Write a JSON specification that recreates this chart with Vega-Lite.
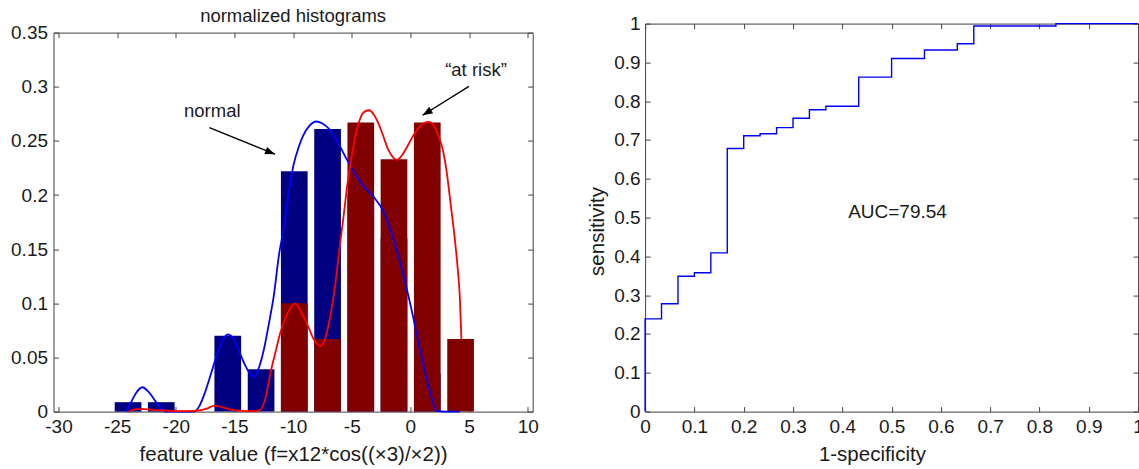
{
  "$schema": "https://vega.github.io/schema/vega-lite/v6.json",
  "background": "white",
  "padding": {"left": 10.5, "top": 6.6, "right": 0, "bottom": 0},
  "bounds": "flush",
  "spacing": 111.6,
  "config": {
    "view": {"stroke": null},
    "font": "Liberation Sans",
    "axis": {
      "grid": false,
      "labelFont": "Liberation Sans",
      "labelFontSize": 19,
      "labelColor": "#1a1a1a",
      "labelFlush": false,
      "labelOverlap": false,
      "titleFont": "Liberation Sans",
      "titleFontSize": 20.5,
      "titleFontWeight": "normal",
      "titleColor": "#1a1a1a",
      "domainColor": "#404040",
      "tickColor": "#404040",
      "domainWidth": 1,
      "tickWidth": 1,
      "tickSize": -5
    }
  },
  "datasets": {
    "bars": [
      {"group": "normal", "center": -24.07, "freq": 0.0087},
      {"group": "normal", "center": -21.24, "freq": 0.0087},
      {"group": "normal", "center": -15.57, "freq": 0.07},
      {"group": "normal", "center": -12.73, "freq": 0.039},
      {"group": "normal", "center": -9.9, "freq": 0.222},
      {"group": "normal", "center": -7.06, "freq": 0.261},
      {"group": "normal", "center": -4.23, "freq": 0.2},
      {"group": "normal", "center": -1.4, "freq": 0.16},
      {"group": "normal", "center": 1.44, "freq": 0.035},
      {"group": "at risk", "center": -9.9, "freq": 0.1},
      {"group": "at risk", "center": -7.06, "freq": 0.067},
      {"group": "at risk", "center": -4.23, "freq": 0.267},
      {"group": "at risk", "center": -1.4, "freq": 0.233},
      {"group": "at risk", "center": 1.44, "freq": 0.267},
      {"group": "at risk", "center": 4.28, "freq": 0.067}
    ],
    "curves": [
      {"group": "normal", "x": -24.19, "y": 0},
      {"group": "normal", "x": -23.8, "y": 0.009},
      {"group": "normal", "x": -23.4, "y": 0.017},
      {"group": "normal", "x": -22.85, "y": 0.0225},
      {"group": "normal", "x": -22.3, "y": 0.018},
      {"group": "normal", "x": -21.7, "y": 0.009},
      {"group": "normal", "x": -21.2, "y": 0.002},
      {"group": "normal", "x": -20.9, "y": 0},
      {"group": "normal", "x": -19.5, "y": 0},
      {"group": "normal", "x": -18.4, "y": 0},
      {"group": "normal", "x": -18.0, "y": 0.005},
      {"group": "normal", "x": -17.5, "y": 0.018},
      {"group": "normal", "x": -17.0, "y": 0.035},
      {"group": "normal", "x": -16.5, "y": 0.052},
      {"group": "normal", "x": -16.0, "y": 0.066},
      {"group": "normal", "x": -15.56, "y": 0.0712},
      {"group": "normal", "x": -15.0, "y": 0.066},
      {"group": "normal", "x": -14.5, "y": 0.053},
      {"group": "normal", "x": -14.0, "y": 0.041},
      {"group": "normal", "x": -13.6, "y": 0.034},
      {"group": "normal", "x": -13.3, "y": 0.0325},
      {"group": "normal", "x": -12.9, "y": 0.041},
      {"group": "normal", "x": -12.49, "y": 0.0573},
      {"group": "normal", "x": -12.0, "y": 0.085},
      {"group": "normal", "x": -11.65, "y": 0.1067},
      {"group": "normal", "x": -11.2, "y": 0.145},
      {"group": "normal", "x": -10.82, "y": 0.168},
      {"group": "normal", "x": -10.4, "y": 0.2},
      {"group": "normal", "x": -9.98, "y": 0.2269},
      {"group": "normal", "x": -9.5, "y": 0.245},
      {"group": "normal", "x": -9.15, "y": 0.2546},
      {"group": "normal", "x": -8.6, "y": 0.264},
      {"group": "normal", "x": -8.03, "y": 0.2679},
      {"group": "normal", "x": -7.5, "y": 0.266},
      {"group": "normal", "x": -6.92, "y": 0.2608},
      {"group": "normal", "x": -6.2, "y": 0.249},
      {"group": "normal", "x": -5.53, "y": 0.235},
      {"group": "normal", "x": -4.8, "y": 0.221},
      {"group": "normal", "x": -4.14, "y": 0.21},
      {"group": "normal", "x": -3.16, "y": 0.1985},
      {"group": "normal", "x": -2.33, "y": 0.1855},
      {"group": "normal", "x": -1.64, "y": 0.166},
      {"group": "normal", "x": -0.8, "y": 0.1344},
      {"group": "normal", "x": 0.03, "y": 0.0974},
      {"group": "normal", "x": 0.87, "y": 0.0543},
      {"group": "normal", "x": 1.7, "y": 0.0173},
      {"group": "normal", "x": 2.2, "y": 0.001},
      {"group": "normal", "x": 3.0, "y": 0},
      {"group": "normal", "x": 4.2, "y": 0},
      {"group": "at risk", "x": -24.0, "y": 0},
      {"group": "at risk", "x": -23.5, "y": 0.002},
      {"group": "at risk", "x": -22.9, "y": 0.0025},
      {"group": "at risk", "x": -22.0, "y": 0.0015},
      {"group": "at risk", "x": -21.0, "y": 0.001},
      {"group": "at risk", "x": -20.0, "y": 0.0005},
      {"group": "at risk", "x": -19.0, "y": 0.0005},
      {"group": "at risk", "x": -18.0, "y": 0.001},
      {"group": "at risk", "x": -17.3, "y": 0.003},
      {"group": "at risk", "x": -16.7, "y": 0.0055},
      {"group": "at risk", "x": -16.0, "y": 0.004},
      {"group": "at risk", "x": -15.2, "y": 0.0015},
      {"group": "at risk", "x": -14.0, "y": 0.0005},
      {"group": "at risk", "x": -13.3, "y": 0.0005},
      {"group": "at risk", "x": -12.76, "y": 0.002},
      {"group": "at risk", "x": -12.3, "y": 0.015},
      {"group": "at risk", "x": -11.93, "y": 0.0358},
      {"group": "at risk", "x": -11.5, "y": 0.055},
      {"group": "at risk", "x": -11.09, "y": 0.0728},
      {"group": "at risk", "x": -10.5, "y": 0.09},
      {"group": "at risk", "x": -9.84, "y": 0.0999},
      {"group": "at risk", "x": -9.3, "y": 0.092},
      {"group": "at risk", "x": -8.73, "y": 0.0789},
      {"group": "at risk", "x": -8.2, "y": 0.066},
      {"group": "at risk", "x": -7.61, "y": 0.0604},
      {"group": "at risk", "x": -7.2, "y": 0.07},
      {"group": "at risk", "x": -6.78, "y": 0.0912},
      {"group": "at risk", "x": -6.4, "y": 0.118},
      {"group": "at risk", "x": -6.09, "y": 0.1467},
      {"group": "at risk", "x": -5.7, "y": 0.18},
      {"group": "at risk", "x": -5.39, "y": 0.2084},
      {"group": "at risk", "x": -5.0, "y": 0.236},
      {"group": "at risk", "x": -4.69, "y": 0.2546},
      {"group": "at risk", "x": -4.3, "y": 0.27},
      {"group": "at risk", "x": -4.0, "y": 0.2762},
      {"group": "at risk", "x": -3.52, "y": 0.2783},
      {"group": "at risk", "x": -3.1, "y": 0.274},
      {"group": "at risk", "x": -2.75, "y": 0.2669},
      {"group": "at risk", "x": -2.3, "y": 0.254},
      {"group": "at risk", "x": -1.91, "y": 0.2423},
      {"group": "at risk", "x": -1.5, "y": 0.235},
      {"group": "at risk", "x": -1.13, "y": 0.2324},
      {"group": "at risk", "x": -0.7, "y": 0.237},
      {"group": "at risk", "x": -0.24, "y": 0.2453},
      {"group": "at risk", "x": 0.25, "y": 0.255},
      {"group": "at risk", "x": 0.73, "y": 0.2623},
      {"group": "at risk", "x": 1.15, "y": 0.2665},
      {"group": "at risk", "x": 1.57, "y": 0.2675},
      {"group": "at risk", "x": 2.0, "y": 0.264},
      {"group": "at risk", "x": 2.4, "y": 0.2546},
      {"group": "at risk", "x": 2.8, "y": 0.24},
      {"group": "at risk", "x": 3.1, "y": 0.2207},
      {"group": "at risk", "x": 3.45, "y": 0.19},
      {"group": "at risk", "x": 3.79, "y": 0.159},
      {"group": "at risk", "x": 4.05, "y": 0.13},
      {"group": "at risk", "x": 4.21, "y": 0.1066},
      {"group": "at risk", "x": 4.35, "y": 0.0666}
    ],
    "arrows": [
      {"id": "normal", "x": -17.14, "y": 0.2623, "x2": -11.54, "y2": 0.2377},
      {"id": "at risk", "x": 4.99, "y": 0.3003, "x2": 1.04, "y2": 0.2737}
    ],
    "notes": [
      {"label": "normal", "x": -16.89, "y": 0.2725},
      {"label": "“at risk”", "x": 5.59, "y": 0.3095}
    ],
    "roc": [
      {"fpr": 0, "tpr": 0},
      {"fpr": 0, "tpr": 0.239},
      {"fpr": 0.0333, "tpr": 0.278},
      {"fpr": 0.0667, "tpr": 0.349},
      {"fpr": 0.1, "tpr": 0.358},
      {"fpr": 0.1333, "tpr": 0.409},
      {"fpr": 0.1667, "tpr": 0.678},
      {"fpr": 0.2, "tpr": 0.711},
      {"fpr": 0.2333, "tpr": 0.716},
      {"fpr": 0.2667, "tpr": 0.732},
      {"fpr": 0.3, "tpr": 0.756},
      {"fpr": 0.3333, "tpr": 0.778},
      {"fpr": 0.3667, "tpr": 0.787},
      {"fpr": 0.4333, "tpr": 0.862},
      {"fpr": 0.5, "tpr": 0.91},
      {"fpr": 0.5667, "tpr": 0.932},
      {"fpr": 0.6333, "tpr": 0.948},
      {"fpr": 0.6667, "tpr": 0.994},
      {"fpr": 0.8333, "tpr": 1.0},
      {"fpr": 1.0, "tpr": 1.0}
    ],
    "auc": [
      {"label": "AUC=79.54", "fpr": 0.512, "tpr": 0.4996}
    ]
  },
  "hconcat": [
    {
      "width": 479.2,
      "height": 388,
      "title": {
        "text": "normalized histograms",
        "font": "Liberation Sans",
        "fontSize": 18.5,
        "fontWeight": "normal",
        "color": "#1a1a1a",
        "frame": "group",
        "anchor": "middle",
        "baseline": "alphabetic",
        "offset": -16.9
      },
      "layer": [
        {
          "layer": [
            {
              "data": {"name": "bars"},
              "transform": [{"filter": "datum.group === 'normal'"}],
              "mark": {"type": "bar", "orient": "vertical", "width": 26.7, "color": "#000080"},
              "encoding": {
                "x": {
                  "field": "center", "type": "quantitative",
                  "scale": {"domain": [-30, 10], "nice": false, "zero": false},
                  "axis": {
                    "values": [-30, -25, -20, -15, -10, -5, 0, 5, 10],
                    "labelExpr": "replace(datum.label, '−', '-')",
                    "labelPadding": 10.5,
                    "title": "feature value (f=x12*cos((×3)/×2))",
                    "titleBaseline": "alphabetic",
                    "minExtent": 30, "maxExtent": 30,
                    "titlePadding": 19
                  }
                },
                "y": {
                  "field": "freq", "type": "quantitative",
                  "scale": {"domain": [0, 0.35], "range": [388, 9], "nice": false, "zero": false},
                  "axis": {
                    "values": [0, 0.05, 0.1, 0.15, 0.2, 0.25, 0.3, 0.35],
                    "format": ".2~f",
                    "labelPadding": 11,
                    "title": null
                  }
                },
                "y2": {"datum": 0}
              }
            },
            {
              "data": {"name": "bars"},
              "transform": [{"filter": "datum.group === 'at risk'"}],
              "mark": {"type": "bar", "orient": "vertical", "width": 26.7, "color": "#800000"},
              "encoding": {
                "x": {"field": "center", "type": "quantitative"},
                "y": {"field": "freq", "type": "quantitative"},
                "y2": {"datum": 0}
              }
            },
            {
              "data": {"name": "curves"},
              "mark": {"type": "line", "interpolate": "monotone", "strokeWidth": 1.8},
              "encoding": {
                "x": {"field": "x", "type": "quantitative"},
                "y": {"field": "y", "type": "quantitative"},
                "color": {
                  "field": "group", "type": "nominal",
                  "scale": {"domain": ["normal", "at risk"], "range": ["#0000ff", "#ff0000"]},
                  "legend": null
                }
              }
            },
            {
              "data": {"name": "arrows"},
              "mark": {"type": "rule", "color": "#000000", "strokeWidth": 1.4},
              "encoding": {
                "x": {"field": "x", "type": "quantitative"},
                "y": {"field": "y", "type": "quantitative"},
                "x2": {"field": "x2"},
                "y2": {"field": "y2"}
              }
            },
            {
              "data": {"name": "arrows"},
              "transform": [{"filter": "datum.id === 'normal'"}],
              "mark": {"type": "point", "shape": "M0,0L-2,-0.75L-2,0.75Z", "size": 100, "filled": true, "opacity": 1, "color": "#000000", "angle": 21.6},
              "encoding": {
                "x": {"field": "x2", "type": "quantitative"},
                "y": {"field": "y2", "type": "quantitative"}
              }
            },
            {
              "data": {"name": "arrows"},
              "transform": [{"filter": "datum.id === 'at risk'"}],
              "mark": {"type": "point", "shape": "M0,0L-2,-0.75L-2,0.75Z", "size": 100, "filled": true, "opacity": 1, "color": "#000000", "angle": 148.7},
              "encoding": {
                "x": {"field": "x2", "type": "quantitative"},
                "y": {"field": "y2", "type": "quantitative"}
              }
            }
          ]
        },
        {
          "data": {"name": "notes"},
          "mark": {"type": "text", "fontSize": 18.5, "font": "Liberation Sans", "color": "#1a1a1a", "align": "center", "baseline": "alphabetic"},
          "encoding": {
            "x": {
              "field": "x", "type": "quantitative",
              "axis": {"orient": "top", "offset": -9, "labels": false, "title": null, "minExtent": 0, "maxExtent": 0, "values": [-30, -25, -20, -15, -10, -5, 0, 5, 10]}
            },
            "y": {
              "field": "y", "type": "quantitative",
              "axis": {"orient": "right", "labels": false, "title": null, "minExtent": 0, "maxExtent": 0, "values": [0, 0.05, 0.1, 0.15, 0.2, 0.25, 0.3, 0.35]}
            },
            "text": {"field": "label"}
          }
        }
      ],
      "resolve": {"axis": {"x": "independent", "y": "independent"}}
    },
    {
      "width": 493,
      "height": 388,
      "layer": [
        {
          "data": {"name": "roc"},
          "mark": {"type": "line", "interpolate": "step-after", "color": "#0000ff", "strokeWidth": 1.4},
          "encoding": {
            "x": {
              "field": "fpr", "type": "quantitative",
              "scale": {"domain": [0, 1], "nice": false, "zero": false},
              "axis": {
                "values": [0, 0.1, 0.2, 0.3, 0.4, 0.5, 0.6, 0.7, 0.8, 0.9, 1],
                "format": ".1~f",
                "labelPadding": 10.5,
                "title": "1-specificity",
                "titleBaseline": "alphabetic",
                "minExtent": 30, "maxExtent": 30,
                "titlePadding": 19,
                "titleX": 226.8
              }
            },
            "y": {
              "field": "tpr", "type": "quantitative",
              "scale": {"domain": [0, 1], "nice": false, "zero": false},
              "axis": {
                "values": [0, 0.1, 0.2, 0.3, 0.4, 0.5, 0.6, 0.7, 0.8, 0.9, 1],
                "format": ".1~f",
                "labelPadding": 10,
                "title": "sensitivity",
                "titleBaseline": "alphabetic",
                "minExtent": 30, "maxExtent": 30,
                "titlePadding": 12,
                "titleY": 207.4
              }
            }
          }
        },
        {
          "data": {"name": "auc"},
          "mark": {"type": "text", "fontSize": 19, "font": "Liberation Sans", "color": "#1a1a1a", "align": "center", "baseline": "alphabetic"},
          "encoding": {
            "x": {
              "field": "fpr", "type": "quantitative",
              "axis": {"orient": "top", "labels": false, "title": null, "minExtent": 0, "maxExtent": 0, "values": [0, 0.1, 0.2, 0.3, 0.4, 0.5, 0.6, 0.7, 0.8, 0.9, 1]}
            },
            "y": {
              "field": "tpr", "type": "quantitative",
              "axis": {"orient": "right", "labels": false, "title": null, "minExtent": 0, "maxExtent": 0, "values": [0, 0.1, 0.2, 0.3, 0.4, 0.5, 0.6, 0.7, 0.8, 0.9, 1]}
            },
            "text": {"field": "label"}
          }
        }
      ],
      "resolve": {"axis": {"x": "independent", "y": "independent"}}
    }
  ]
}
